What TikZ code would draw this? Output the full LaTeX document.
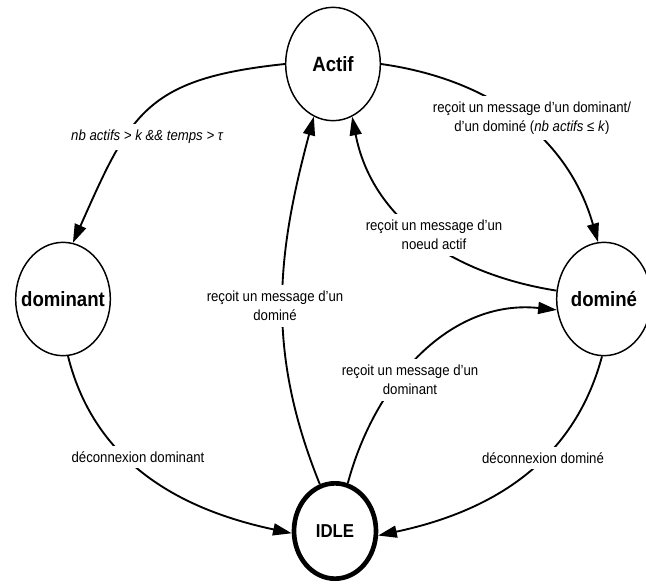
\documentclass[tikz,border=0pt]{standalone}
\usepackage{fontspec}
\setmainfont{Liberation Sans}[FakeStretch=0.9]
\usetikzlibrary{arrows.meta,shapes.geometric}

\begin{document}
\begin{tikzpicture}[
    x=0.75pt, y=0.75pt,
    >={Triangle[length=14pt,width=9pt]},
    etat/.style={
      draw,
      ellipse,
      line width=1.1pt,
      minimum width=71pt,
      minimum height=85pt,
      label={[font=\fontsize{15.5}{18}\selectfont\bfseries]center:#1}
    },
    repos/.style={
      draw,
      ellipse,
      line width=3.5pt,
      minimum width=61.5pt,
      minimum height=71.5pt,
      label={[font=\fontsize{14}{17}\selectfont\bfseries]center:#1}
    },
    cond/.style={
      fill=white,
      align=center,
      inner xsep=1pt,
      inner ysep=4.5pt,
      font=\fontsize{11}{14.3}\selectfont
    },
    trans/.style={->, line width=1.4pt}
  ]
    \useasboundingbox (0,0) rectangle (646,-583);

    \node[etat=Actif] (actif) at (333,-64) {};
    \node[etat=dominant] (dominant) at (63,-299) {};
    \node[etat=dominé] (domine) at (604,-299) {};
    \node[repos=IDLE] (idle) at (335,-531) {};

    \draw[trans] (actif.180) to[out=186, in=66, looseness=1.3] (dominant.80);
    \draw[trans] (actif.0) to[out=-8, in=106] (domine.96);
    \draw[trans] (domine.170) to[out=171, in=-79] (actif.290);
    \draw[trans] (idle.108) to[out=112, in=255] (actif.250);
    \draw[trans] (idle.75) to[out=75, in=174] (domine.193);
    \draw[trans] (dominant.275) to[out=-76, in=168] (idle.183);
    \draw[trans] (domine.268) to[out=255, in=12] (idle.-6);

    % conditions de transition
    \node[cond] (c1) at (147,-137) {\itshape nb actifs > k \&\& temps > τ};
    \node[cond] (c2) at (532,-118) {reçoit un message d'un dominant/\\d'un dominé (\textit{nb actifs} ≤ \textit{k})};
    \node[cond] (c3) at (434,-235) {reçoit un message d'un\\noeud actif};
    \node[cond] (c4) at (275,-306) {reçoit un message d'un\\dominé};
    \node[cond] (c5) at (410,-380) {reçoit un message d'un\\dominant};
    \node[cond] (c6) at (138,-457) {déconnexion dominant};
    \node[cond] (c7) at (543,-458) {déconnexion dominé};
  \end{tikzpicture}
\end{document}
